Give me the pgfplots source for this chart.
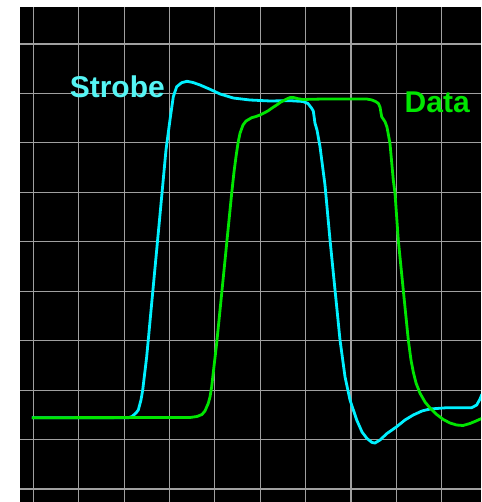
\documentclass[border=0pt]{standalone}
\usepackage{pgfplots}
\pgfplotsset{compat=1.18}
\usepackage{fontspec}
\setmainfont{Liberation Sans}
\definecolor{strobecol}{RGB}{0,240,255}
\definecolor{strobelab}{RGB}{85,245,245}
\definecolor{datacol}{RGB}{0,230,0}
\definecolor{gridcol}{RGB}{160,160,160}
\begin{document}
\begin{tikzpicture}
\begin{axis}[
  scale only axis,
  width=461pt, height=495pt,
  xmin=-0.293, xmax=9.866,
  ymin=-0.263, ymax=9.749,
  axis background/.style={fill=black},
  axis line style={draw=none},
  xtick={0,...,9}, ytick={0,...,9},
  xticklabels={}, yticklabels={},
  major tick length=0pt,
  grid=major,
  major grid style={gridcol, line width=1.1pt},
]
\addplot[strobecol, line width=2.8pt, line join=round] coordinates {
(-0.03,1.442) (2.087,1.44) (2.175,1.466) (2.263,1.537) (2.314,1.598) (2.373,1.800)
(2.411,2.002) (2.499,2.676) (2.609,3.756) (2.719,4.834) (2.829,5.912) (2.924,6.857)
(3.012,7.464) (3.085,7.935) (3.160,8.137) (3.270,8.218) (3.387,8.246) (3.519,8.222)
(3.673,8.172) (3.893,8.085) (4.114,7.990) (4.407,7.908) (4.773,7.868) (5.214,7.848)
(5.655,7.854) (5.943,7.838) (6.053,7.797) (6.135,7.700) (6.170,7.646) (6.208,7.397)
(6.252,7.261) (6.318,6.924) (6.428,6.149) (6.539,5.036) (6.649,4.025) (6.759,3.014)
(6.869,2.271) (6.979,1.800) (7.127,1.396) (7.244,1.153) (7.354,1.021) (7.464,0.941)
(7.530,0.930) (7.640,0.991) (7.794,1.123) (8.008,1.260) (8.191,1.396) (8.374,1.497)
(8.566,1.578) (8.742,1.618) (9.110,1.644) (9.661,1.644) (9.771,1.699) (9.844,1.820)
(9.888,1.921)
};
\addplot[datacol, line width=2.8pt, line join=round] coordinates {
(-0.03,1.442) (3.453,1.446) (3.607,1.466) (3.717,1.507) (3.783,1.578) (3.856,1.733)
(3.894,1.861) (3.931,2.069) (3.960,2.306) (4.041,2.947) (4.152,3.958) (4.262,4.970)
(4.372,5.981) (4.423,6.412) (4.467,6.721) (4.511,6.998) (4.555,7.195) (4.621,7.362)
(4.688,7.443) (4.813,7.510) (4.908,7.534) (4.996,7.565) (5.106,7.615) (5.179,7.652)
(5.261,7.706) (5.364,7.767) (5.458,7.828) (5.584,7.888) (5.657,7.917) (5.729,7.919)
(5.833,7.894) (5.943,7.878) (6.097,7.882) (6.391,7.888) (7.347,7.888) (7.464,7.868)
(7.541,7.838) (7.603,7.801) (7.640,7.727) (7.677,7.530) (7.750,7.429) (7.794,7.322)
(7.860,6.992) (7.933,6.250) (7.971,5.981) (8.043,5.036) (8.153,4.025) (8.264,3.014)
(8.323,2.609) (8.374,2.366) (8.434,2.144) (8.522,1.936) (8.632,1.760) (8.742,1.638)
(8.889,1.507) (9.035,1.406) (9.182,1.335) (9.330,1.294) (9.469,1.284) (9.623,1.325)
(9.755,1.375) (9.888,1.430)
};
\node[anchor=base west, inner sep=0pt, text=strobelab, font=\fontsize{30}{30}\selectfont\bfseries] at (axis cs:0.80,7.91) {Strobe};
\node[anchor=base west, inner sep=0pt, text=datacol, font=\fontsize{30}{30}\selectfont\bfseries] at (axis cs:8.18,7.62) {Data};
\end{axis}
\pgfresetboundingbox
\path (current axis.south west) ++(-20pt,0pt) rectangle ([yshift=7pt]current axis.north east);
\end{tikzpicture}
\end{document}
